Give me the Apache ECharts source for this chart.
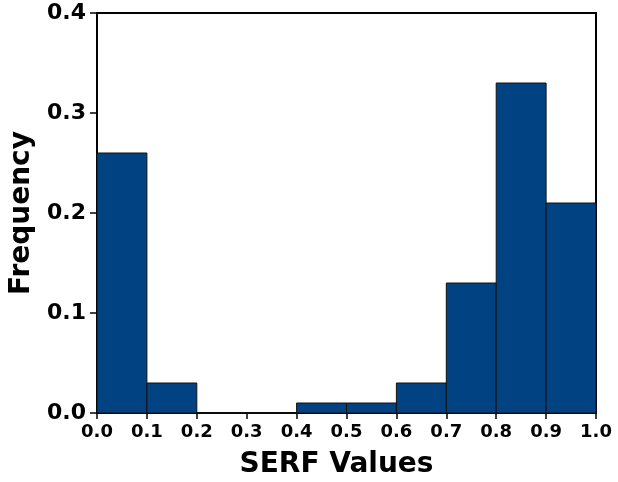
<!DOCTYPE html>
<html>
<head>
<meta charset="utf-8">
<script src="https://cdn.jsdelivr.net/npm/echarts@6/dist/echarts.min.js"></script>
<style>
  html, body { margin: 0; padding: 0; background: #fff; }
  #main { width: 618px; height: 482px; }
</style>
</head>
<body>
<div id="main"></div>
<script>
// bin edges (left side) and frequencies
var binStarts = [0.0, 0.1, 0.2, 0.3, 0.4, 0.5, 0.6, 0.7, 0.8, 0.9];
var binWidth = 0.1;
var frequency = [0.26, 0.03, 0.0, 0.0, 0.01, 0.01, 0.03, 0.13, 0.33, 0.21];

var histData = binStarts.map(function (s, i) {
  return [s, s + binWidth, frequency[i]];
});

var myChart = echarts.init(document.getElementById('main'));
var font = 'DejaVu Sans';

myChart.setOption({
  animation: false,
  grid: {
    left: 97, right: 22, top: 13, bottom: 69,
    outerBoundsMode: 'none', containLabel: false,
    show: true, borderColor: '#000', borderWidth: 2, backgroundColor: 'transparent'
  },
  xAxis: {
    type: 'value', min: 0, max: 1, interval: 0.1,
    name: 'SERF Values', nameLocation: 'middle', nameGap: 38,
    nameTextStyle: {
      fontFamily: font, fontWeight: 'bold', fontSize: 28, color: '#000',
      padding: [0, 20, 0, 0]
    },
    axisLine: { lineStyle: { color: '#000', width: 2 } },
    axisTick: { show: true, length: 6, lineStyle: { color: '#000', width: 1.5 } },
    axisLabel: {
      fontFamily: font, fontWeight: 'bold', fontSize: 18, color: '#000', margin: 10,
      formatter: function (v) { return v.toFixed(1); }
    },
    splitLine: { show: false }
  },
  yAxis: {
    type: 'value', min: 0, max: 0.4, interval: 0.1,
    name: 'Frequency', nameLocation: 'middle', nameGap: 61, nameRotate: 90,
    nameTextStyle: { fontFamily: font, fontWeight: 'bold', fontSize: 28, color: '#000' },
    axisLine: { show: true, lineStyle: { color: '#000', width: 2 } },
    axisTick: { show: true, length: 7, lineStyle: { color: '#000', width: 1.5 } },
    axisLabel: {
      fontFamily: font, fontWeight: 'bold', fontSize: 22, color: '#000', margin: 11,
      formatter: function (v) { return v.toFixed(1); }
    },
    splitLine: { show: false }
  },
  series: [{
    type: 'custom',
    data: histData,
    encode: { x: [0, 1], y: 2 },
    renderItem: function (params, api) {
      var p0 = api.coord([api.value(0), api.value(2)]);
      var p1 = api.coord([api.value(1), 0]);
      return {
        type: 'rect',
        shape: { x: p0[0], y: p0[1], width: p1[0] - p0[0], height: p1[1] - p0[1] },
        style: { fill: '#004282', stroke: '#111', lineWidth: 1 }
      };
    }
  }]
});
</script>
</body>
</html>
